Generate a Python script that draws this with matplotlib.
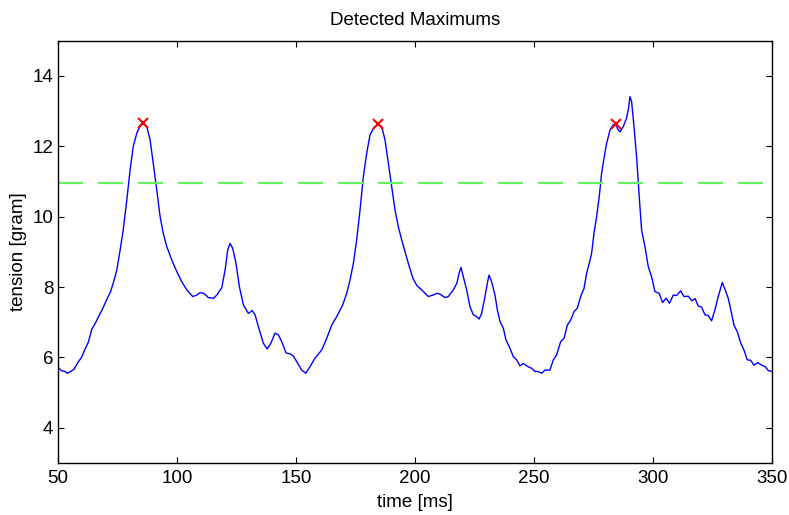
"""
Detected Maximums: tension signal with threshold and detected peaks
"""

import numpy as np
import matplotlib.pyplot as plt

plt.rcParams['font.family'] = ['Liberation Sans', 'DejaVu Sans']

# ============================================================
# Data
# ============================================================
time_ms = [
    50, 51.5, 53, 53.9, 55.3, 56.7, 58.5, 59.9, 61.3, 62.7, 64.2, 65.5, 67.6, 69,
    70.5, 72.1, 73.2, 74.7, 76.1, 77.4, 78.9, 80.3, 81.6, 83.1, 84.5, 85.8, 87.3,
    88.7, 90, 91.5, 92.9, 94.2, 95.7, 97.8, 99.9, 102, 104.1, 106.6, 108.3, 109.7,
    111.3, 113.2, 115.3, 116.7, 118.8, 120.2, 121.3, 122.3, 123.4, 124.8, 126.2,
    127.9, 130, 131.6, 132.8, 134.6, 136.3, 137.9, 139.4, 141.2, 142.6, 144, 145.8,
    147.5, 148.9, 150.3, 152.4, 154.1, 155.9, 158, 160.8, 162.9, 165, 167.1, 169.6,
    171.3, 172.7, 174.1, 175.5, 176.9, 178.3, 179.7, 181.1, 182.8, 184.6, 186,
    187.4, 188.8, 190.2, 191.6, 193, 194.4, 195.8, 197.2, 199.1, 200.8, 202.8,
    205.6, 207.5, 209.1, 210.5, 212.6, 214, 216.1, 217.6, 218.5, 219.3, 220.3,
    221.7, 223.1, 224.5, 225.9, 226.9, 228, 229.4, 230.4, 231.1, 232.2, 233.6,
    234.6, 235.7, 237.1, 238.2, 239.9, 241.3, 242.7, 244.1, 245.5, 246.9, 248,
    249, 250.4, 251.8, 253.2, 254.6, 256.7, 258.1, 259.5, 261.2, 262.6, 264,
    265.4, 266.8, 268.2, 269.6, 271, 272.1, 273.2, 274.2, 275.2, 276.3, 277.4,
    278.4, 279.4, 280.5, 281.9, 283.3, 284.5, 285.2, 286.1, 287.5, 288.9, 289.8,
    290.3, 291, 292, 293.1, 294.2, 295.2, 296.6, 298, 299.4, 300.8, 302.6, 304,
    305.5, 306.9, 308.5, 309.9, 311.6, 313, 314.8, 316.3, 317.7, 319, 320.4,
    321.8, 323.2, 324.6, 326, 327.4, 329.1, 330.3, 331.6, 333, 334, 335.4, 336.9,
    338.2, 339.6, 341, 342.4, 344, 345.7, 347.1, 348.5, 350,
]
tension = [
    5.72, 5.62, 5.6, 5.55, 5.6, 5.66, 5.87, 6.0, 6.23, 6.42, 6.8, 6.95, 7.23, 7.42,
    7.65, 7.87, 8.11, 8.48, 9.05, 9.62, 10.47, 11.33, 11.99, 12.37, 12.58, 12.65,
    12.56, 12.18, 11.52, 10.76, 10.0, 9.53, 9.15, 8.77, 8.44, 8.15, 7.92, 7.73,
    7.77, 7.84, 7.82, 7.70, 7.68, 7.77, 7.98, 8.48, 9.05, 9.24, 9.1, 8.67, 8.01,
    7.49, 7.25, 7.33, 7.21, 6.78, 6.4, 6.24, 6.4, 6.69, 6.64, 6.45, 6.13, 6.1,
    6.04, 5.88, 5.64, 5.55, 5.74, 5.98, 6.21, 6.54, 6.92, 7.16, 7.49, 7.82, 8.2,
    8.67, 9.34, 10.19, 11.14, 11.8, 12.32, 12.54, 12.63, 12.56, 12.18, 11.52,
    10.85, 10.19, 9.71, 9.34, 9.0, 8.67, 8.25, 8.04, 7.92, 7.73, 7.77, 7.82, 7.8,
    7.70, 7.73, 7.92, 8.11, 8.39, 8.56, 8.29, 7.92, 7.44, 7.21, 7.16, 7.09, 7.25,
    7.73, 8.11, 8.34, 8.15, 7.77, 7.35, 7.02, 6.83, 6.5, 6.26, 6.02, 5.93, 5.76,
    5.83, 5.76, 5.72, 5.69, 5.6, 5.6, 5.55, 5.64, 5.64, 5.93, 6.07, 6.45, 6.54,
    6.92, 7.06, 7.30, 7.40, 7.73, 7.96, 8.39, 8.67, 8.96, 9.53, 10.0, 10.57,
    11.23, 11.66, 12.08, 12.46, 12.61, 12.61, 12.48, 12.41, 12.56, 12.8, 13.12,
    13.41, 13.27, 12.56, 11.7, 10.57, 9.62, 9.15, 8.58, 8.29, 7.87, 7.82, 7.56,
    7.68, 7.54, 7.77, 7.76, 7.89, 7.73, 7.74, 7.61, 7.67, 7.46, 7.43, 7.21, 7.19,
    7.04, 7.35, 7.73, 8.13, 7.92, 7.68, 7.25, 6.92, 6.73, 6.40, 6.21, 5.93, 5.92,
    5.78, 5.85, 5.78, 5.74, 5.62, 5.6,
]

threshold = 10.97

peak_times = [85.8, 184.6, 284.3]
peak_values = [12.65, 12.63, 12.63]

# ============================================================
# Plot
# ============================================================
fig = plt.figure(figsize=(7.89, 5.15), dpi=100)
ax = fig.add_axes([0.0735, 0.101, 0.905, 0.82])

ax.plot(time_ms, tension, color='#0000ff', linewidth=1.0)
ax.axhline(threshold, color='#66f066', linewidth=1.6, dashes=(11.25, 6.75))
ax.plot(peak_times, peak_values, linestyle='none', marker='x',
        color='#ff0000', markersize=7, markeredgewidth=1.5)

ax.set_xlim(50, 350)
ax.set_ylim(3, 15)
ax.set_xticks([50, 100, 150, 200, 250, 300, 350])
ax.set_yticks([4, 6, 8, 10, 12, 14])

ax.tick_params(direction='in', length=4.5, width=0.8, top=True, right=True,
               labelsize=13.5)
ax.tick_params(axis='x', pad=5)
ax.tick_params(axis='y', pad=3.5)
for sp in ax.spines.values():
    sp.set_linewidth(1.0)

ax.set_title('Detected Maximums', fontsize=13.5, pad=11)
ax.set_xlabel('time [ms]', fontsize=13.5, labelpad=5)
ax.set_ylabel('tension [gram]', fontsize=13.5, labelpad=4)

plt.savefig('out.png', dpi=100)
